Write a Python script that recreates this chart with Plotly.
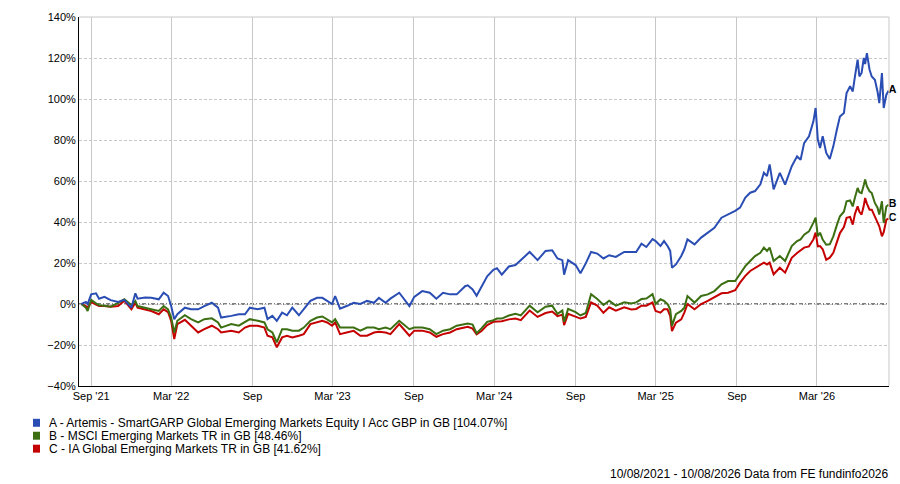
import plotly.graph_objects as go

# performance data (% growth)
dates = [
    "2021-08-10", "2021-08-20", "2021-08-24", "2021-09-01", "2021-09-12", "2021-09-19",
    "2021-10-01", "2021-10-15", "2021-11-01", "2021-11-15", "2021-12-01", "2021-12-10",
    "2021-12-15", "2022-01-01", "2022-01-15", "2022-02-01", "2022-02-12", "2022-02-22",
    "2022-03-01", "2022-03-08", "2022-03-15", "2022-04-01", "2022-04-15", "2022-05-01",
    "2022-05-15", "2022-06-01", "2022-06-15", "2022-06-22", "2022-07-15", "2022-08-01",
    "2022-08-15", "2022-08-26", "2022-09-13", "2022-09-28", "2022-10-05", "2022-10-16",
    "2022-10-26", "2022-11-07", "2022-11-18", "2022-11-30", "2022-12-15", "2022-12-26",
    "2023-01-10", "2023-01-25", "2023-02-06", "2023-02-17", "2023-02-28", "2023-03-07",
    "2023-03-18", "2023-04-02", "2023-04-18", "2023-05-03", "2023-05-18", "2023-06-03",
    "2023-06-14", "2023-06-29", "2023-07-10", "2023-07-30", "2023-08-22", "2023-09-02",
    "2023-09-20", "2023-10-07", "2023-10-22", "2023-11-06", "2023-11-22", "2023-12-07",
    "2023-12-26", "2024-01-01", "2024-01-12", "2024-01-21", "2024-02-01", "2024-02-14",
    "2024-02-28", "2024-03-07", "2024-03-18", "2024-04-03", "2024-04-18", "2024-04-30",
    "2024-05-20", "2024-06-07", "2024-06-25", "2024-07-10", "2024-07-22", "2024-08-02",
    "2024-08-06", "2024-08-15", "2024-09-01", "2024-09-12", "2024-09-24", "2024-10-06",
    "2024-10-20", "2024-11-03", "2024-11-16", "2024-12-01", "2024-12-20", "2025-01-05",
    "2025-01-16", "2025-01-28", "2025-02-08", "2025-02-22", "2025-03-01", "2025-03-12",
    "2025-03-20", "2025-03-28", "2025-04-03", "2025-04-07", "2025-04-16", "2025-04-28",
    "2025-05-05", "2025-05-12", "2025-05-28", "2025-06-12", "2025-06-27", "2025-07-12",
    "2025-07-28", "2025-08-12", "2025-08-28", "2025-09-08", "2025-09-20", "2025-10-01",
    "2025-10-12", "2025-10-24", "2025-11-01", "2025-11-08", "2025-11-14", "2025-11-23",
    "2025-12-07", "2025-12-19", "2026-01-03", "2026-01-15", "2026-01-23", "2026-01-31",
    "2026-02-11", "2026-02-21", "2026-02-26", "2026-03-03", "2026-03-08", "2026-03-14",
    "2026-03-22", "2026-03-30", "2026-04-07", "2026-04-15", "2026-04-22", "2026-05-01",
    "2026-05-07", "2026-05-15", "2026-05-21", "2026-05-26", "2026-06-01", "2026-06-05",
    "2026-06-10", "2026-06-15", "2026-06-18", "2026-06-22", "2026-06-28", "2026-07-03",
    "2026-07-10", "2026-07-16", "2026-07-20", "2026-07-26", "2026-07-30", "2026-08-05",
    "2026-08-10",
]

artemis = [
    0.0, 1.0, 0.0, 4.7, 5.2, 2.6,
    3.5, 1.9, 1.0, 2.0, -1.8, 5.2,
    2.6, 3.2, 3.0, 2.3, 5.5, 3.9,
    -1.0, -7.4, -5.0, -1.8, -2.6, -2.6,
    -1.0, 0.6, -1.8, -6.6, -5.8, -5.0,
    -5.0, -1.8, -2.6, -1.8, -7.4, -5.8,
    -8.2, -4.2, -5.5, -1.8, -5.5, -2.6,
    1.5, 3.0, 3.0, 1.5, 0.0, 3.9,
    -2.3, -1.0, 0.6, 0.0, 1.5, 0.6,
    3.0, 0.6, 2.6, 5.5, -1.0, 3.5,
    6.3, 5.5, 2.6, 5.5, 4.7, 4.7,
    8.7, 9.1, 7.1, 4.0, 8.7, 13.5,
    16.7, 17.5, 14.3, 18.3, 19.0, 21.4,
    25.4, 21.4, 25.9, 26.2, 22.2, 21.4,
    14.3, 21.4, 19.0, 15.0, 19.8, 25.4,
    24.6, 22.2, 23.8, 23.0, 25.4, 25.4,
    25.4, 29.4, 27.8, 31.7, 30.7, 28.3,
    30.7, 28.3, 25.9, 17.7, 19.3, 23.4,
    26.7, 31.5, 29.1, 32.4, 34.8, 37.2,
    42.1, 43.7, 45.4, 47.0, 51.9, 54.3,
    55.1, 58.4, 64.0, 62.4, 68.1, 55.9,
    64.0, 58.2, 67.2, 72.0, 70.4, 78.5,
    81.8, 89.1, 95.6, 80.2, 76.1, 81.8,
    73.7, 70.7, 76.9, 85.0, 91.5, 93.2,
    102.9, 106.2, 103.7, 111.0, 119.2, 111.0,
    112.7, 120.0, 117.0, 122.4, 114.3, 111.0,
    109.4, 103.7, 98.0, 112.7, 95.6, 102.1,
    104.07,
]

msci_em = [
    0.0, -1.8, -3.4, 2.0, 0.3, -0.6,
    -0.8, -1.3, 0.5, 2.3, -0.5, 1.5,
    -1.0, -2.0, -2.6, -3.4, -1.0, -2.6,
    -6.6, -13.9, -8.2, -5.5, -7.4, -9.0,
    -7.4, -7.0, -9.0, -11.5, -9.8, -10.6,
    -9.0, -7.4, -8.2, -9.0, -12.3, -13.9,
    -18.7, -12.3, -12.3, -13.0, -13.0, -11.5,
    -8.2, -6.6, -6.1, -7.4, -9.0, -7.4,
    -11.5, -11.5, -11.5, -13.0, -11.5, -11.5,
    -12.3, -11.5, -12.3, -8.2, -12.3, -11.5,
    -11.5, -12.3, -14.7, -13.0, -12.3, -10.6,
    -10.0, -9.5, -10.0, -14.3, -11.9, -8.7,
    -7.9, -7.1, -7.1, -5.6, -4.8, -5.6,
    -0.8, -4.0, -1.3, -0.8, -4.8, -3.2,
    -8.7, -2.4, -4.0, -5.6, -4.4, 4.8,
    2.4, -0.5, 1.6, -0.8, 0.8, 0.3,
    0.8, 2.4, 2.7, 4.8, 0.0, 2.3,
    1.5, 0.0, -2.6, -10.7, -5.0, -3.4,
    -1.8, 3.9, 0.7, 3.9, 4.7, 6.3,
    9.6, 11.2, 11.2, 14.5, 18.5, 21.0,
    23.4, 25.0, 27.5, 25.9, 27.5, 21.0,
    23.4, 21.0, 28.3, 30.7, 31.5, 33.8,
    35.4, 39.7, 42.1, 33.0, 34.8, 31.4,
    28.9, 29.1, 33.0, 38.5, 42.8, 45.0,
    50.1, 50.5, 47.6, 52.0, 56.6, 54.5,
    54.1, 58.0, 60.7, 57.4, 55.0, 54.1,
    49.3, 47.0, 43.6, 50.1, 39.5, 47.6,
    48.46,
]

ia_gem = [
    0.0, -1.0, -2.0, 1.0, -0.3, -1.0,
    -1.0, -1.3, -1.0, 1.6, -2.6, 0.6,
    -1.8, -2.6, -3.4, -5.0, -2.6, -4.0,
    -8.2, -17.1, -9.8, -7.7, -10.6, -13.9,
    -12.3, -10.6, -12.3, -13.9, -13.1, -13.9,
    -11.5, -10.6, -10.6, -11.5, -15.5, -16.3,
    -21.1, -16.3, -15.5, -16.3, -15.5, -14.7,
    -9.8, -8.7, -8.2, -9.0, -10.6, -9.0,
    -14.7, -13.9, -13.1, -15.5, -15.5, -13.9,
    -13.5, -13.9, -14.7, -9.8, -15.5, -13.0,
    -13.0, -13.9, -16.0, -14.7, -13.9, -12.3,
    -11.5, -11.1, -12.0, -14.8, -13.2, -10.3,
    -8.7, -8.7, -8.4, -7.5, -7.1, -7.9,
    -3.2, -6.3, -4.4, -3.7, -5.9, -5.2,
    -10.3, -4.8, -6.3, -7.1, -6.3, 0.8,
    -0.8, -4.3, -1.6, -3.2, -1.6, -2.7,
    -2.4, -0.8, -0.8, 0.8, -3.4, -4.2,
    -2.6, -2.6, -5.9, -13.2, -9.1, -7.5,
    -4.2, 0.0, -2.6, 0.0, 1.5, 3.1,
    5.2, 5.5, 6.7, 10.4, 13.7, 16.1,
    17.7, 19.3, 20.2, 19.3, 20.2, 14.5,
    17.7, 15.3, 22.5, 24.9, 26.0, 27.5,
    28.1, 31.5, 34.8, 28.1, 28.3, 26.7,
    21.6, 22.6, 25.0, 29.8, 34.6, 37.5,
    42.0, 42.5, 38.7, 44.0, 47.6, 45.0,
    43.6, 48.0, 51.7, 49.0, 46.0, 46.0,
    42.8, 40.0, 37.9, 33.0, 35.0, 41.1,
    41.62,
]

names = [
    "A - Artemis - SmartGARP Global Emerging Markets Equity I Acc GBP in GB [104.07%]",
    "B - MSCI Emerging Markets TR in GB [48.46%]",
    "C - IA Global Emerging Markets TR in GB [41.62%]",
]
letters = ["A", "B", "C"]
colors = ["#2a4db4", "#3b6f12", "#c40000"]

tick_dates = ["2021-09-01", "2022-03-01", "2022-09-01", "2023-03-01", "2023-09-01",
              "2024-03-01", "2024-09-01", "2025-03-01", "2025-09-01", "2026-03-01"]
tick_text = ["Sep '21", "Mar '22", "Sep", "Mar '23", "Sep",
             "Mar '24", "Sep", "Mar '25", "Sep", "Mar '26"]

FONT = "Liberation Sans, Arial, sans-serif"
W, H = 900, 484
L, R, T, B = 79, 11, 15, 98


def px(x):
    # pixel -> paper x
    return (x - L) / (W - L - R)


def py(y):
    # pixel -> paper y
    return (H - B - y) / (H - T - B)


fig = go.Figure()
series = [artemis, msci_em, ia_gem]
# draw C first so A sits on top
for vals, name, col in reversed(list(zip(series, names, colors))):
    fig.add_trace(go.Scatter(x=dates, y=vals, name=name, mode="lines",
                             line=dict(color=col, width=2), showlegend=False))

# end labels A / B / C, at the last point, allowed outside the plot area
for vals, letter in zip(series, letters):
    fig.add_trace(go.Scatter(x=[dates[-1]], y=[vals[-1]], mode="text",
                             text=["<b>" + letter + "</b>"], textposition="middle right",
                             textfont=dict(family=FONT, size=11, color="black"),
                             cliponaxis=False, showlegend=False, hoverinfo="skip"))

# zero line, dash-dot
fig.add_shape(type="line", xref="paper", x0=0, x1=1, yref="y", y0=0, y1=0,
              line=dict(color="black", width=1, dash="4px,2px,1px,2px"), layer="between")
# top / right frame
fig.add_shape(type="line", xref="paper", yref="paper", x0=0, x1=1, y0=1, y1=1,
              line=dict(color="#c8c8c8", width=1))
fig.add_shape(type="line", xref="paper", yref="paper", x0=1, x1=1, y0=0, y1=1,
              line=dict(color="#c8c8c8", width=1))

# legend rows with coloured squares
for i, (name, col) in enumerate(zip(names, colors)):
    yc = 423 + i * 13
    fig.add_shape(type="rect", xref="paper", yref="paper",
                  x0=px(33), x1=px(40), y0=py(yc - 4), y1=py(yc + 4),
                  fillcolor=col, line=dict(width=0))
    fig.add_annotation(xref="paper", yref="paper", x=px(47), y=py(yc), text=name,
                       showarrow=False, xanchor="left", yanchor="middle",
                       font=dict(family=FONT, size=12, color="black"))

fig.add_annotation(xref="paper", yref="paper", x=px(891), y=py(474),
                   text="10/08/2021 - 10/08/2026 Data from FE fundinfo2026",
                   showarrow=False, xanchor="right", yanchor="middle",
                   font=dict(family=FONT, size=12, color="black"))

fig.update_xaxes(range=["2021-08-04 12:00", "2026-08-11"], tickvals=tick_dates, ticktext=tick_text,
                 showgrid=True, gridcolor="#c8c8c8", gridwidth=1, showline=True,
                 linecolor="black", linewidth=1, ticks="", zeroline=False,
                 tickfont=dict(family=FONT, size=11, color="black"))
fig.update_yaxes(range=[-40, 140], dtick=20, ticksuffix="%", showgrid=True,
                 gridcolor="#c8c8c8", griddash="3px,2px", gridwidth=1, showline=True,
                 linecolor="black", linewidth=1, ticks="", zeroline=False,
                 tickfont=dict(family=FONT, size=11, color="black"))

fig.update_layout(width=W, height=H, margin=dict(l=L, r=R, t=T, b=B),
                  plot_bgcolor="white", paper_bgcolor="white",
                  font=dict(family=FONT, size=11, color="black"))

# drop the default page margin so the 900x484 figure fills the window exactly
fig.write_html("out.html", config={"displayModeBar": False},
               post_script="document.body.style.margin='0';document.body.style.overflow='hidden';")
